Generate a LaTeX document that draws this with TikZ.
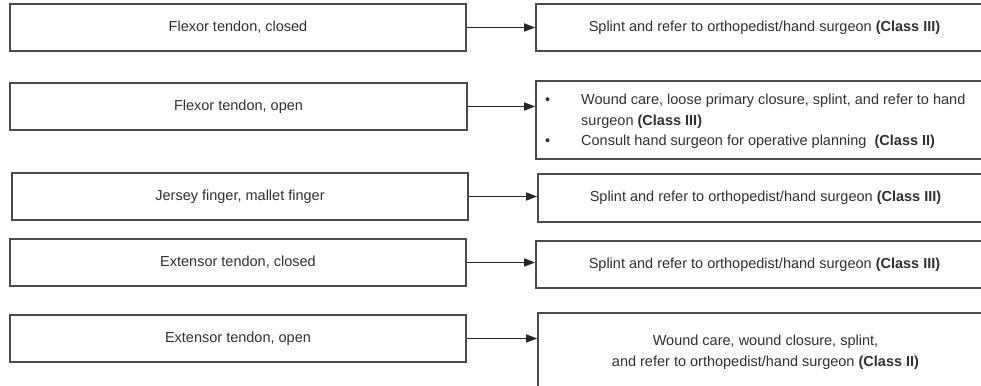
\documentclass[tikz,border=0pt]{standalone}
\usepackage{fontspec}
\setmainfont{Liberation Sans}
\usetikzlibrary{arrows.meta}
\definecolor{linec}{HTML}{4A4A4A}
\definecolor{arrc}{HTML}{262626}
\definecolor{txtc}{HTML}{303030}
\begin{document}
\begin{tikzpicture}[x=1pt,y=-1pt,
  box/.style={draw=linec, line width=1.7pt, rectangle, inner sep=0pt, text=txtc,
    font=\fontsize{14.5}{20.5}\selectfont, align=center},
  lbox/.style={box, minimum width=456pt, minimum height=47pt},
  conn/.style={draw=arrc, line width=1.5pt, -{Triangle[length=11pt,width=8pt]}}]
\useasboundingbox (0,0) rectangle (981,385);
\clip (0,0) rectangle (981,385);
% left boxes
\node[lbox] (l1) at (238,27.5) {Flexor tendon, closed};
\node[lbox, minimum width=457pt] (l2) at (238.5,106.5) {Flexor tendon, open};
\node[lbox] (l3) at (240,196.5) {Jersey finger, mallet finger};
\node[lbox] (l4) at (238,262.5) {Extensor tendon, closed};
\node[lbox] (l5) at (238,338.5) {Extensor tendon, open};
% right boxes
\node[box, minimum width=457pt, minimum height=47pt] (r1) at (764.5,27.5) {Splint and refer to orthopedist/hand surgeon \textbf{(Class III)}};
\node[box, minimum width=457pt, minimum height=78pt] (r2) at (764.5,120) {};
\node[anchor=west, inner sep=0pt, text=txtc, font=\fontsize{14.5}{20.8}\selectfont] (r2t) at (545,121)
  {\begin{tabular}{@{}l@{}l@{}}
   \makebox[36pt][l]{\textbullet} & Wound care, loose primary closure, splint, and refer to hand\\
   & surgeon \textbf{(Class III)}\\
   \makebox[36pt][l]{\textbullet} & Consult hand surgeon for operative planning\ \ \textbf{(Class II)}
   \end{tabular}};
\node[box, minimum width=455pt, minimum height=48pt] (r3) at (765.5,198) {Splint and refer to orthopedist/hand surgeon \textbf{(Class III)}};
\node[box, minimum width=457pt, minimum height=47pt] (r4) at (764.5,264.5) {Splint and refer to orthopedist/hand surgeon \textbf{(Class III)}};
\node[box, minimum width=455pt, minimum height=78pt] (r5) at (765.5,352) {Wound care, wound closure, splint,\\and refer to orthopedist/hand surgeon \textbf{(Class II)}};
% connectors
\draw[conn] (l1.east) -- (l1.east -| r1.west);
\draw[conn] (l2.east) -- (l2.east -| r2.west);
\draw[conn] (l3.east) -- (l3.east -| r3.west);
\draw[conn] (l4.east) -- (l4.east -| r4.west);
\draw[conn] (l5.east) -- (l5.east -| r5.west);
\end{tikzpicture}
\end{document}
